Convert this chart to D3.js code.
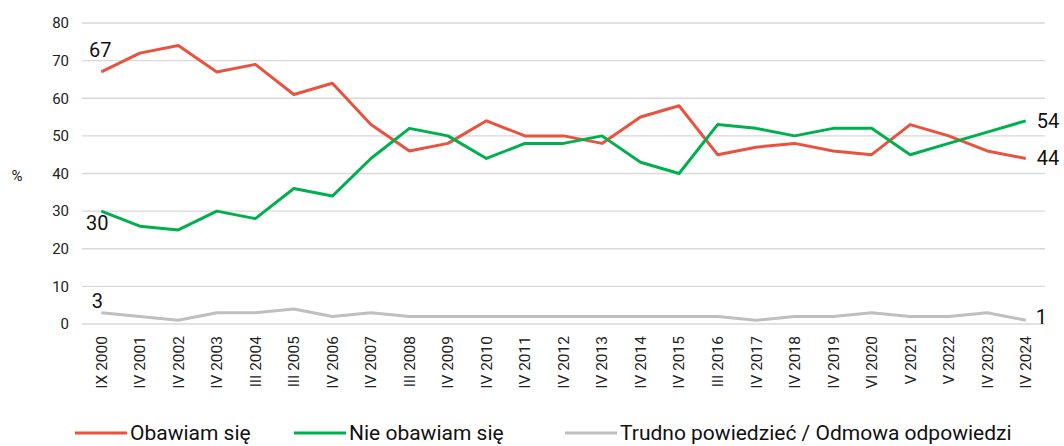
<!DOCTYPE html>
<html><head><meta charset="utf-8">
<script src="https://cdn.jsdelivr.net/npm/d3@7"></script>
<style>body{margin:0;background:#fff;font-family:Roboto,sans-serif}</style>
</head><body><svg id="c" width="1064" height="446"></svg>
<script>
const categories = ["IX 2000","IV 2001","IV 2002","IV 2003","III 2004","III 2005","IV 2006","IV 2007","III 2008","IV 2009","IV 2010","IV 2011","IV 2012","IV 2013","IV 2014","IV 2015","III 2016","IV 2017","IV 2018","IV 2019","VI 2020","V 2021","V 2022","IV 2023","IV 2024"];
const obawiam = [67,72,74,67,69,61,64,53,46,48,54,50,50,48,55,58,45,47,48,46,45,53,50,46,44];
const nieObawiam = [30,26,25,30,28,36,34,44,52,50,44,48,48,50,43,40,53,52,50,52,52,45,48,51,54];
const trudno = [3,2,1,3,3,4,2,3,2,2,2,2,2,2,2,2,2,1,2,2,3,2,2,3,1];
const yTicks = [0,10,20,30,40,50,60,70,80];
const seriesNames = ["Obawiam się","Nie obawiam się","Trudno powiedzieć / Odmowa odpowiedzi"];
const colors = ["#E8533F","#00B04F","#BFBFBF"];

const svg = d3.select("#c");
const x = d3.scaleBand().domain(categories).range([82,1045]);
const y = d3.scaleLinear().domain([0,80]).range([324,23]);
const cx = d => x(d) + x.bandwidth()/2;

svg.append("g").selectAll("line").data(yTicks).join("line")
  .attr("x1",82).attr("x2",1045).attr("y1",d=>y(d)).attr("y2",d=>y(d))
  .attr("stroke","#D9D9D9").attr("stroke-width",1.3);

const ya = svg.append("g").attr("transform","translate(69,0)")
  .call(d3.axisLeft(y).tickValues(yTicks).tickSize(0).tickPadding(0));
ya.select(".domain").remove();
ya.selectAll("text").attr("font-family","Roboto").attr("font-size",15).attr("fill","#222");

svg.append("text").attr("x",17).attr("y",181).attr("text-anchor","middle")
  .attr("font-size",15).attr("fill","#222").text("%");

const xa = svg.append("g").attr("transform","translate(0,330)")
  .call(d3.axisBottom(x).tickSize(0).tickPadding(0));
xa.select(".domain").remove();
xa.selectAll("text").attr("font-family","Roboto").attr("font-size",15.5).attr("fill","#222")
  .attr("text-anchor","end").attr("dy","0.35em")
  .attr("transform","translate(0,6) rotate(-90)");

const data = [obawiam, nieObawiam, trudno];
const line = d3.line().x((d,i)=>cx(categories[i])).y(d=>y(d));
[2,0,1].forEach(k=>{
  svg.append("path").attr("d",line(data[k])).attr("fill","none")
    .attr("stroke",colors[k]).attr("stroke-width",3).attr("stroke-linejoin","round");
});

const first = cx(categories[0]), last = cx(categories[categories.length-1]);
const lab = (xx,yy,t,anchor)=>svg.append("text").attr("x",xx).attr("y",yy)
  .attr("text-anchor",anchor).attr("font-size",20).attr("fill","#111").text(t);
lab(first-1, y(obawiam[0])-15, obawiam[0], "middle");
lab(first-4, y(nieObawiam[0])+19, nieObawiam[0], "middle");
lab(first-4, y(trudno[0])-5, trudno[0], "middle");
const n = categories.length-1;
lab(last+11, y(nieObawiam[n])+7, nieObawiam[n], "start");
lab(last+11, y(obawiam[n])+7, obawiam[n], "start");
lab(last+10, y(trudno[n])+4, trudno[n], "start");

const legX = [75,294,565];
seriesNames.forEach((s,k)=>{
  svg.append("line").attr("x1",legX[k]).attr("x2",legX[k]+52).attr("y1",433).attr("y2",433)
    .attr("stroke",colors[k]).attr("stroke-width",3);
  svg.append("text").attr("x",legX[k]+55).attr("y",440).attr("font-size",21)
    .attr("fill","#111").text(s);
});
</script></body></html>
